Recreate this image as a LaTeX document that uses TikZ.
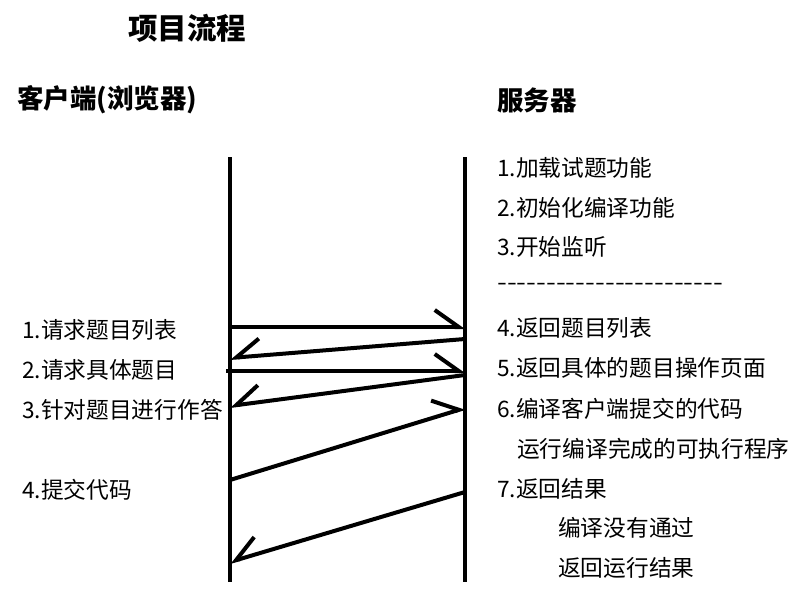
\documentclass[tikz,border=0pt]{standalone}
\usepackage{fontspec}
\setmainfont{Noto Sans CJK SC}
\usepackage{tikz}
\usetikzlibrary{arrows.meta}

\tikzset{
    txt/.style={anchor=west, inner sep=0pt, font=\fontsize{22.7}{26}\selectfont},
    head/.style={anchor=west, inner sep=0pt, font=\fontsize{26.5}{30}\selectfont\bfseries},
    life/.style={line width=4pt},
    msg/.style={line width=4pt, -{Straight Barb[harpoon, length=24pt, width=34pt]}},
    reply/.style={line width=4pt, -{Straight Barb[harpoon, swap, length=24pt, width=34pt]}},
}

\begin{document}
\begin{tikzpicture}[x=1pt, y=-1pt]
    \useasboundingbox (0,0) rectangle (806,602);

    \node[head, font=\fontsize{29.5}{32}\selectfont\bfseries] (title) at (128,28) {项目流程};
    \node[head] (client) at (17,100) {客户端(浏览器)};
    \node[head] (server) at (497,100) {服务器};

    \coordinate (ctop) at (230,157);
    \coordinate (cbot) at (230,582);
    \coordinate (stop) at (465,157);
    \coordinate (sbot) at (465,582);
    \draw[life] (ctop) -- (cbot);
    \draw[life] (stop) -- (sbot);

    \foreach \n/\y in {c1/327, c2/358, c3/371, c4/406, c5/480, c6/562}
        \coordinate (\n) at (230,\y);
    \foreach \n/\y in {s1/327, s2/339, s3/371, s4/375, s5/408, s6/492}
        \coordinate (\n) at (465,\y);

    \draw[msg] (c1) -- (s1);
    \draw[reply] (s2) -- (c2);
    \draw[msg] ([xshift=-4pt]c3) -- (s3);
    \draw[reply] (s4) -- (c4);
    \draw[msg] (c5) -- (s5);
    \draw[reply] (s6) -- (c6);

    \foreach \n/\y/\t in {q1/330/1.请求题目列表, q2/370/2.请求具体题目,
                          q3/410/3.针对题目进行作答, q4/490/4.提交代码}
        \node[txt] (\n) at (22,\y) {\t};

    \foreach \n/\y/\t in {r1/168/1.加载试题功能, r2/208/2.初始化编译功能, r3/247/3.开始监听,
                          r4/328/4.返回题目列表, r5/368/5.返回具体的题目操作页面,
                          r6/409/6.编译客户端提交的代码, r7/489/7.返回结果}
        \node[txt] (\n) at (497,\y) {\t};
    \node[txt] (r6b) at (517,449) {运行编译完成的可执行程序};
    \node[txt] (r7a) at (558,528) {编译没有通过};
    \node[txt] (r7b) at (558,568) {返回运行结果};

    \node[txt] (sep) at (497,287) {\resizebox{226pt}{\height}{-{}-{}-{}-{}-{}-{}-{}-{}-{}-{}-{}-{}-{}-{}-{}-{}-{}-{}-{}-{}-{}-{}-}};
\end{tikzpicture}
\end{document}
